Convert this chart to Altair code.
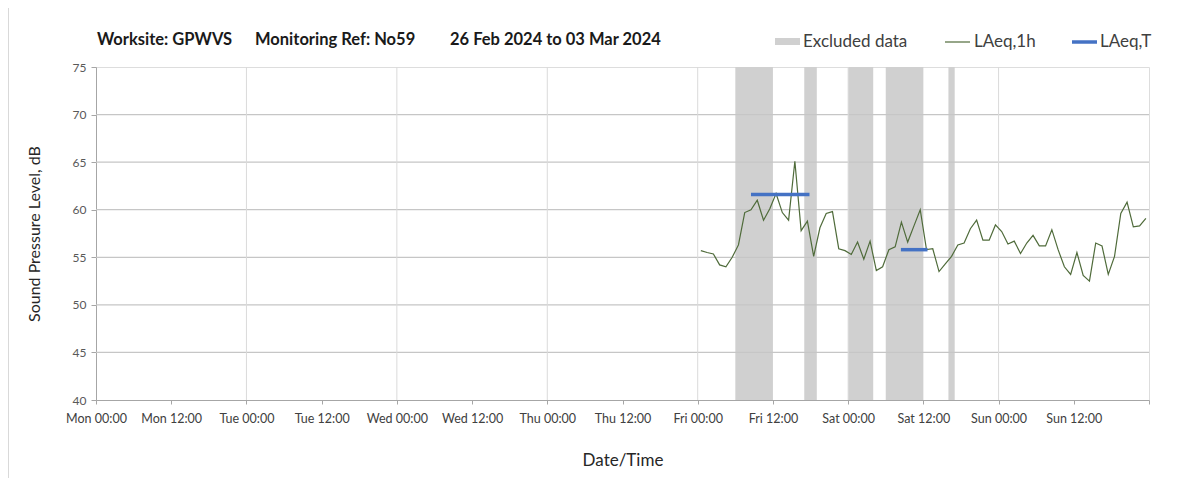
import altair as alt
import pandas as pd
from datetime import datetime

FONT = "Lato"

# ---------------- data ----------------
title_parts = ["Worksite: GPWVS", "Monitoring Ref: No59", "26 Feb 2024 to 03 Mar 2024"]
legend_labels = ["Excluded data", "LAeq,1h", "LAeq,T"]

# hourly LAeq,1h values, first one plotted at Fri 00:30, one per hour
laeq_1h_start = "2024-03-01T00:30"
laeq_1h = [
    55.7, 55.5, 55.35, 54.2, 54.0, 55.0, 56.3, 59.7, 60.0, 61.0, 58.9, 60.1,
    61.7, 59.7, 58.9, 65.1, 57.8, 58.8, 55.1, 58.1, 59.6, 59.8, 55.9, 55.7,
    55.3, 56.6, 54.8, 56.7, 53.6, 54.0, 55.8, 56.1, 58.7, 56.6, 58.3, 60.0,
    55.8, 55.9, 53.5, 54.3, 55.1, 56.3, 56.5, 58.0, 58.9, 56.8, 56.8, 58.4,
    57.7, 56.4, 56.7, 55.4, 56.5, 57.3, 56.2, 56.2, 57.9, 55.8, 54.0, 53.2,
    55.5, 53.1, 52.5, 56.5, 56.2, 53.2, 55.1, 59.6, 60.8, 58.2, 58.3, 59.1,
]

excluded_start = ["2024-03-01T06:00", "2024-03-01T17:00", "2024-03-02T00:00",
                  "2024-03-02T06:00", "2024-03-02T16:00"]
excluded_end = ["2024-03-01T12:00", "2024-03-01T19:00", "2024-03-02T04:00",
                "2024-03-02T12:00", "2024-03-02T17:00"]

laeq_t_start = ["2024-03-01T08:30", "2024-03-02T08:25"]
laeq_t_end = ["2024-03-01T17:50", "2024-03-02T12:40"]
laeq_t_value = [61.6, 55.8]

x_domain = ["2024-02-26T00:00", "2024-03-04T00:00"]
x_ticks = ["2024-02-26T00:00", "2024-02-26T12:00", "2024-02-27T00:00", "2024-02-27T12:00",
           "2024-02-28T00:00", "2024-02-28T12:00", "2024-02-29T00:00", "2024-02-29T12:00",
           "2024-03-01T00:00", "2024-03-01T12:00", "2024-03-02T00:00", "2024-03-02T12:00",
           "2024-03-03T00:00", "2024-03-03T12:00", "2024-03-04T00:00"]
day_grid = ["2024-02-27T00:00", "2024-02-28T00:00", "2024-02-29T00:00",
            "2024-03-01T00:00", "2024-03-02T00:00", "2024-03-03T00:00"]
y_ticks = [40, 45, 50, 55, 60, 65, 70, 75]

# ---------------- layout ----------------
W, H = 1053, 333
PAD = {"left": 88, "top": 59, "right": 38, "bottom": 78}


def dt(s):
    d = datetime.fromisoformat(s)
    return alt.DateTime(year=d.year, month=d.month, date=d.day,
                        hours=d.hour, minutes=d.minute)


line_df = pd.DataFrame({
    "time": pd.date_range(laeq_1h_start, periods=len(laeq_1h), freq="h"),
    "value": laeq_1h,
})
line_df["time"] = line_df["time"].dt.strftime("%Y-%m-%dT%H:%M:%S")
band_df = pd.DataFrame({"start": excluded_start, "end": excluded_end})
t_df = pd.DataFrame({"start": laeq_t_start, "end": laeq_t_end, "value": laeq_t_value})
hgrid_df = pd.DataFrame({"y": y_ticks[1:-1]})
vgrid_df = pd.DataFrame({"t": day_grid})

x_scale = alt.Scale(domain=[dt(s) for s in x_domain], nice=False)
y_scale = alt.Scale(domain=[y_ticks[0], y_ticks[-1]], nice=False, zero=False)

x_axis = alt.Axis(
    values=[dt(s) for s in x_ticks], format="%a %H:%M",
    labelExpr="datum.index == 1 ? '' : timeFormat(datum.value, '%a %H:%M')",
    grid=False, labelFont=FONT, labelFontSize=12.5, labelColor="#404040",
    labelPadding=8, tickSize=4, tickColor="#a6a6a6", domainColor="#a6a6a6",
    labelFlush=False, labelOverlap=False,
    titleFont=FONT, titleFontSize=17, titleFontWeight="normal",
    titleColor="#262626", titlePadding=28,
)
y_axis = alt.Axis(
    values=y_ticks, grid=False, labelFont=FONT, labelFontSize=12,
    labelColor="#595959", labelPadding=5, tickSize=5, tickColor="#a6a6a6",
    domainColor="#a6a6a6", labelFlush=False, titleFont=FONT, titleFontSize=16,
    titleFontWeight="normal", titleColor="#262626", titlePadding=30,
)
X_TITLE = "Date/Time"
Y_TITLE = "Sound Pressure Level, dB"


def xenc(field):
    return alt.X(field, type="temporal", scale=x_scale, axis=x_axis, title=X_TITLE)


def yenc(field):
    return alt.Y(field, type="quantitative", scale=y_scale, axis=y_axis, title=Y_TITLE)


bands = alt.Chart(band_df).mark_rect(color="#d0d0d0").encode(
    x=xenc("start"), x2="end", y=alt.value(0), y2=alt.value(H)
)
hgrid = alt.Chart(hgrid_df).mark_rule(color="#c6c6c6", strokeWidth=1.2).encode(y=yenc("y"))
vgrid = alt.Chart(vgrid_df).mark_rule(color="#dadada", strokeWidth=1).encode(x=xenc("t"))
line = alt.Chart(line_df).mark_line(color="#4f6b3a", strokeWidth=1.2).encode(
    x=xenc("time"), y=yenc("value")
)
tline = alt.Chart(t_df).mark_rule(color="#4472c4", strokeWidth=3.5).encode(
    x=xenc("start"), x2="end", y=yenc("value")
)

# title pieces
title_layers = []
for txt, px in zip(title_parts, [1, 159, 354]):
    title_layers.append(
        alt.Chart(pd.DataFrame({"t": [txt]})).mark_text(
            font=FONT, fontSize=16.5, fontWeight="bold", color="#1a1a1a",
            align="left", baseline="middle",
        ).encode(text="t:N", x=alt.value(px), y=alt.value(-27))
    )

# custom legend
LY = -25
leg_df = [pd.DataFrame({"t": [s]}) for s in legend_labels]
leg_rect = alt.Chart(leg_df[0]).mark_rect(color="#d0d0d0").encode(
    x=alt.value(679), x2=alt.value(704), y=alt.value(LY - 4), y2=alt.value(LY + 3)
)
leg_green = alt.Chart(leg_df[1]).mark_rule(color="#4f6b3a", strokeWidth=1.2).encode(
    x=alt.value(849), x2=alt.value(874), y=alt.value(LY)
)
leg_blue = alt.Chart(leg_df[2]).mark_rule(color="#4472c4", strokeWidth=3.5).encode(
    x=alt.value(976), x2=alt.value(1001), y=alt.value(LY)
)
leg_texts = []
for d, px in zip(leg_df, [707, 878, 1004]):
    leg_texts.append(
        alt.Chart(d).mark_text(font=FONT, fontSize=17, color="#404040",
                               align="left", baseline="middle").encode(
            text="t:N", x=alt.value(px), y=alt.value(LY))
    )

border = alt.Chart(leg_df[0]).mark_rule(color="#d9d9d9", strokeWidth=1).encode(
    x=alt.value(-87.5), y=alt.value(-59), y2=alt.value(H + 78)
)

chart = alt.layer(
    bands, hgrid, vgrid, line, tline, *title_layers,
    leg_rect, leg_green, leg_blue, *leg_texts, border,
).properties(
    width=W, height=H,
    autosize=alt.AutoSizeParams(type="none"),
    padding=PAD,
).configure_view(
    stroke="#bfbfbf", strokeWidth=1
).configure(background="white")

chart.save("out.html", embed_options={"renderer": "svg", "actions": False})
